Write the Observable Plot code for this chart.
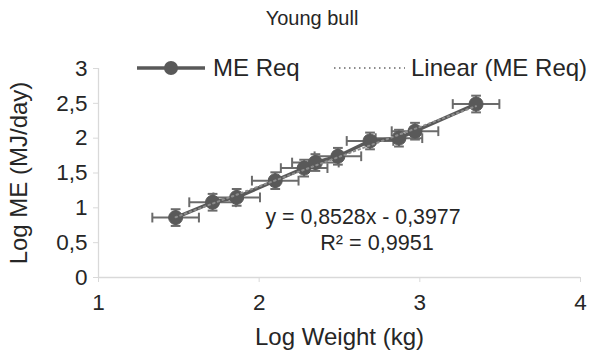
<!DOCTYPE html>
<html><head><meta charset="utf-8">
<script src="https://cdn.jsdelivr.net/npm/d3@7"></script>
<script src="https://cdn.jsdelivr.net/npm/@observablehq/plot@0.6"></script>
<style>
html,body{margin:0;padding:0;background:#fff;}
#wrap{position:relative;width:599px;height:356px;font-family:"Liberation Sans",Arial,sans-serif;color:#262626;}
.ov{position:absolute;white-space:nowrap;line-height:1;}
#chart svg{display:block;}
#chart svg g[aria-label="x-axis label"] text, #chart svg g[aria-label="y-axis label"] text{font-size:24px;}
</style>
</head><body>
<div id="wrap">
  <div id="chart"></div>
  <div class="ov" id="title" style="left:0;width:624px;text-align:center;top:8px;font-size:20px;"></div>
  <div class="ov" id="legend" style="left:0;top:56px;width:599px;height:24px;font-size:24px;">
    <svg width="599" height="24" style="position:absolute;left:0;top:0">
      <line x1="137" x2="205" y1="12" y2="12" stroke="#595959" stroke-width="3.5"/>
      <circle cx="171" cy="12" r="7" fill="#595959"/>
      <line x1="334" x2="405" y1="12" y2="12" stroke="#8c8c8c" stroke-width="2" stroke-dasharray="1.5,3.5"/>
    </svg>
    <span id="leg1" style="position:absolute;left:213px;top:0px;"></span>
    <span id="leg2" style="position:absolute;left:411px;top:0px;"></span>
  </div>
  <div class="ov" id="eq1" style="left:363px;top:207px;transform:translateX(-50%);font-size:21.33px;"></div>
  <div class="ov" id="eq2" style="left:377px;top:232px;transform:translateX(-50%);font-size:21.6px;"></div>
</div>
<script>
const chartTitle = "Young bull";
const seriesName = "ME Req";
const trendName = "Linear (ME Req)";
const xLabel = "Log Weight (kg)";
const yLabel = "Log ME (MJ/day)";
const logWeight = [1.48, 1.71, 1.86, 2.10, 2.28, 2.35, 2.49, 2.69, 2.87, 2.97, 3.35];
const logME     = [0.86, 1.08, 1.15, 1.39, 1.57, 1.65, 1.74, 1.96, 2.00, 2.10, 2.49];
const xErr = [0.145, 0.145, 0.145, 0.145, 0.145, 0.145, 0.145, 0.145, 0.145, 0.145, 0.145];
const yErr = [0.12, 0.12, 0.12, 0.12, 0.12, 0.12, 0.12, 0.12, 0.12, 0.12, 0.12];
const slope = 0.8528;
const intercept = -0.3977;
const rSquared = 0.9951;
const xTicks = [1, 2, 3, 4];
const yTicks = [0, 0.5, 1, 1.5, 2, 2.5, 3];

const fmt = v => String(v).replace(".", ",");
const data = logWeight.map((x, i) => ({x, y: logME[i], ex: xErr[i], ey: yErr[i]}));
const xMin = d3.min(logWeight), xMax = d3.max(logWeight);
const trend = [xMin, xMax].map(x => ({x, y: slope * x + intercept}));

const vbar = {draw(ctx, size){ const h = Math.sqrt(size) / 2; ctx.moveTo(0, -h); ctx.lineTo(0, h); }};
const hbar = {draw(ctx, size){ const h = Math.sqrt(size) / 2; ctx.moveTo(-h, 0); ctx.lineTo(h, 0); }};

const grey = "#595959";
const errCol = "#6b6b6b";
const axisCol = "#d9d9d9";

const plot = Plot.plot({
  width: 599,
  height: 356,
  marginTop: 68,
  marginBottom: 79,
  marginLeft: 98,
  marginRight: 19,
  style: {fontFamily: "Liberation Sans, Arial, sans-serif", fontSize: "22.5px", color: "#262626", background: "#fff"},
  x: {domain: [1, 4]},
  y: {domain: [0, 3]},
  marks: [
    Plot.ruleX([1], {stroke: axisCol, strokeWidth: 1.3}),
    Plot.ruleY([0], {stroke: axisCol, strokeWidth: 1.3}),
    Plot.axisX({ticks: xTicks, tickFormat: fmt, tickSize: 5, tickPadding: 12, stroke: axisCol, fill: "#262626",
      label: xLabel, labelAnchor: "center", labelArrow: "none", labelOffset: 67}),
    Plot.axisY({ticks: yTicks, tickFormat: fmt, tickSize: 5, tickPadding: 6, stroke: axisCol, fill: "#262626",
      label: yLabel, labelAnchor: "center", labelArrow: "none", labelOffset: 89}),
    // horizontal error bars
    Plot.link(data, {x1: d => d.x - d.ex, x2: d => d.x + d.ex, y1: "y", y2: "y", stroke: errCol, strokeWidth: 2}),
    Plot.dot(data, {x: d => d.x - d.ex, y: "y", symbol: vbar, r: 5.5, stroke: errCol, strokeWidth: 2}),
    Plot.dot(data, {x: d => d.x + d.ex, y: "y", symbol: vbar, r: 5.5, stroke: errCol, strokeWidth: 2}),
    // vertical error bars
    Plot.link(data, {x1: "x", x2: "x", y1: d => d.y - d.ey, y2: d => d.y + d.ey, stroke: errCol, strokeWidth: 2}),
    Plot.dot(data, {x: "x", y: d => d.y - d.ey, symbol: hbar, r: 5.5, stroke: errCol, strokeWidth: 2}),
    Plot.dot(data, {x: "x", y: d => d.y + d.ey, symbol: hbar, r: 5.5, stroke: errCol, strokeWidth: 2}),
    // series
    Plot.line(data, {x: "x", y: "y", stroke: grey, strokeWidth: 3.5}),
    Plot.dot(data, {x: "x", y: "y", r: 7, fill: grey, stroke: grey, strokeWidth: 1}),
    // trendline
    Plot.line(trend, {x: "x", y: "y", stroke: "#8c8c8c", strokeWidth: 2, strokeDasharray: "1.5,3.5"})
  ]
});
document.getElementById("chart").appendChild(plot);
document.getElementById("title").textContent = chartTitle;
document.getElementById("leg1").textContent = seriesName;
document.getElementById("leg2").textContent = trendName;
document.getElementById("eq1").textContent = `y = ${fmt(slope)}x - ${fmt(Math.abs(intercept))}`;
document.getElementById("eq2").textContent = `R² = ${fmt(rSquared)}`;
</script>
</body></html>
